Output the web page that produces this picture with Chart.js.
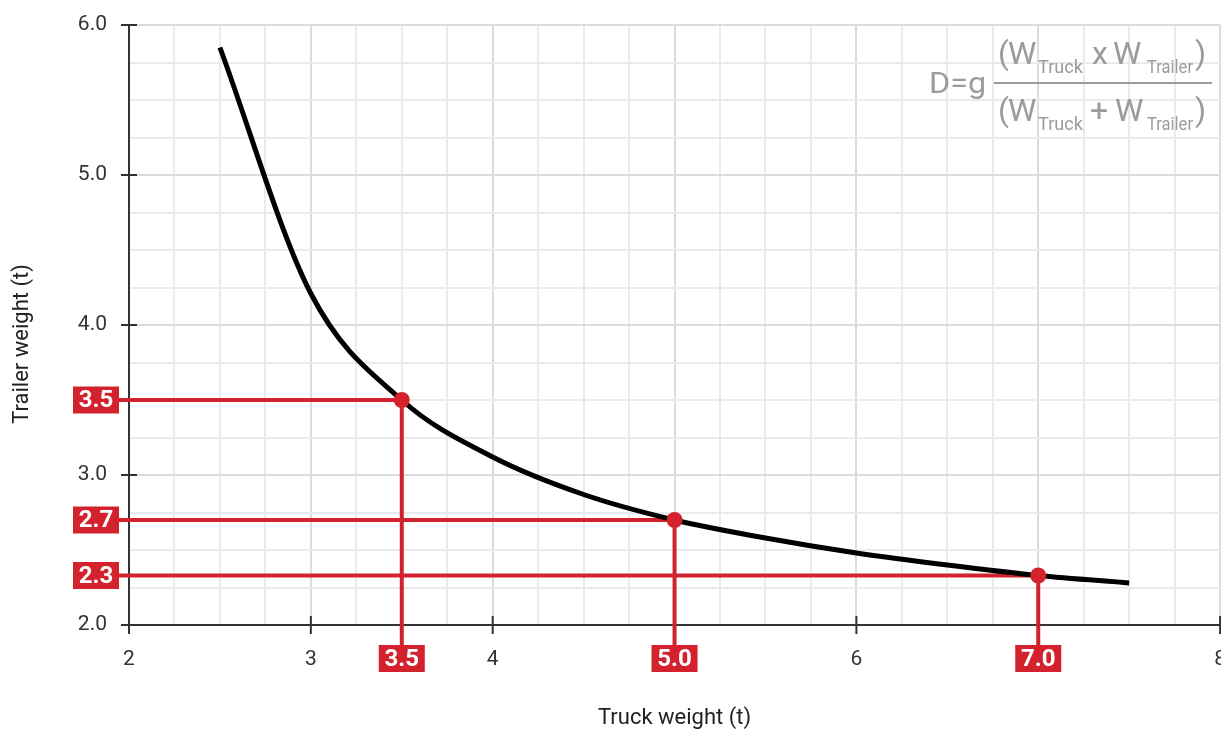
<!DOCTYPE html>
<html>
<head>
<meta charset="utf-8">
<script src="https://cdn.jsdelivr.net/npm/chart.js@4.4.0/dist/chart.umd.min.js"></script>
<style>
html, body { margin: 0; padding: 0; background: #fff; overflow: hidden; }
#wrap { position: absolute; left: 0; top: 0; width: 1226px; height: 731px; }
</style>
</head>
<body>
<div id="wrap"><canvas id="myChart"></canvas></div>
<script>
// curve
const truckWeights = [2.5, 3.0, 3.5, 4.0, 4.5, 5.0, 5.5, 6.0, 6.5, 7.0, 7.5];
const trailerWeights = [5.85, 4.21, 3.5, 3.12, 2.87, 2.70, 2.58, 2.48, 2.40, 2.33, 2.28];

// highlighted points
const markerTruck = [3.5, 5.0, 7.0];
const markerTrailer = [3.5, 2.70, 2.33];
const markerTruckLabels = ['3.5', '5.0', '7.0'];
const markerTrailerLabels = ['3.5', '2.7', '2.3'];

// labelled ticks
const xTickLabels = [2, 3, 4, 6, 8];
const yTickLabels = [2, 3, 4, 5, 6];

const RED = '#d3222e';
const AXIS = '#333333';
const FONT = 'Roboto';

// draw text squeezed/stretched to a given width
function fitText(ctx, text, x, y, w) {
    const m = ctx.measureText(text).width;
    ctx.save();
    ctx.translate(x, y);
    ctx.scale(w / m, 1);
    ctx.fillText(text, 0, 0);
    ctx.restore();
}

const guidePlugin = {
    id: 'guides',
    beforeDatasetsDraw(chart) {
        const ctx = chart.ctx;
        const x = chart.scales.x, y = chart.scales.y;
        ctx.save();
        ctx.strokeStyle = RED;
        ctx.lineWidth = 4;
        for (let i = 0; i < markerTruck.length; i++) {
            const px = x.getPixelForValue(markerTruck[i]);
            const py = y.getPixelForValue(markerTrailer[i]);
            ctx.beginPath();
            ctx.moveTo(x.left - 10, py);
            ctx.lineTo(px, py);
            ctx.lineTo(px, y.bottom + 20);
            ctx.stroke();
        }
        ctx.restore();
    },
    afterDraw(chart) {
        const ctx = chart.ctx;
        const x = chart.scales.x, y = chart.scales.y;
        ctx.save();
        // crossing tick marks
        ctx.strokeStyle = AXIS;
        ctx.lineWidth = 2;
        yTickLabels.forEach(v => {
            const py = y.getPixelForValue(v);
            ctx.beginPath();
            ctx.moveTo(x.left - 8, py);
            ctx.lineTo(x.left + 8, py);
            ctx.stroke();
        });
        xTickLabels.forEach(v => {
            const px = x.getPixelForValue(v);
            ctx.beginPath();
            ctx.moveTo(px, y.bottom - 9);
            ctx.lineTo(px, y.bottom + 9);
            ctx.stroke();
        });

        // y axis title (sits a little below the middle of the axis)
        ctx.fillStyle = '#222';
        ctx.font = '22px ' + FONT;
        ctx.textAlign = 'center';
        ctx.textBaseline = 'middle';
        ctx.translate(22, 344);
        ctx.rotate(-Math.PI / 2);
        ctx.fillText('Trailer weight (t)', 0, 0);
        ctx.setTransform(1, 0, 0, 1, 0, 0);

        // red value boxes
        ctx.font = 'bold 24px ' + FONT;
        for (let i = 0; i < markerTruck.length; i++) {
            const px = x.getPixelForValue(markerTruck[i]);
            const py = y.getPixelForValue(markerTrailer[i]);
            ctx.fillStyle = RED;
            ctx.fillRect(x.left - 56, py - 13.5, 46, 27);
            ctx.fillRect(px - 23, y.bottom + 20, 46, 27);
            ctx.fillStyle = '#ffffff';
            ctx.fillText(markerTrailerLabels[i], x.left - 33, py + 1);
            ctx.fillText(markerTruckLabels[i], px, y.bottom + 34.5);
        }

        // formula
        ctx.fillStyle = '#9b9b9b';
        ctx.textAlign = 'left';
        ctx.textBaseline = 'alphabetic';
        ctx.font = '30px ' + FONT;
        fitText(ctx, 'D=g', 929, 93, 57);
        ctx.fillRect(994, 82, 218, 2);
        const row = (base, op, opX, w2X) => {
            ctx.font = '32px ' + FONT;
            ctx.fillText('(', 998, base);
            ctx.fillText('W', 1008, base);
            ctx.fillText(op, opX, base);
            ctx.fillText('W', w2X, base);
            ctx.fillText(')', 1195, base);
            ctx.font = '18px ' + FONT;
            fitText(ctx, 'Truck', 1038, base + 9, 45);
            fitText(ctx, 'Trailer', 1147, base + 9, 46);
        };
        row(64, 'x', 1092, 1113);
        row(121, '+', 1090, 1115);
        ctx.restore();
    }
};

const gridColor = c => (c.tick && Number.isInteger(c.tick.value)) ? '#dcdcdc' : '#ebebeb';

const chartConfig = {
    type: 'scatter',
    data: {
        datasets: [{
            label: 'Points',
            data: markerTruck.map((v, i) => ({x: v, y: markerTrailer[i]})),
            backgroundColor: RED,
            borderWidth: 0,
            pointRadius: 8,
            showLine: false,
            order: 0,
        },
        {
            label: 'D curve',
            data: truckWeights.map((v, i) => ({x: v, y: trailerWeights[i]})),
            showLine: true,
            borderColor: '#000000',
            borderWidth: 5,
            pointRadius: 0,
            cubicInterpolationMode: 'monotone',
            order: 1,
        }],
    },
    options: {
        responsive: true,
        maintainAspectRatio: false,
        animation: false,
        layout: { autoPadding: false, padding: { top: 25, right: 0, left: 0, bottom: 0 } },
        plugins: {
            legend: { display: false },
            tooltip: { enabled: false },
        },
        scales: {
            x: {
                type: 'linear',
                min: 2,
                max: 8,
                afterFit: s => { s.height = 106; },
                ticks: {
                    stepSize: 0.25,
                    autoSkip: false,
                    maxRotation: 0,
                    padding: 0,
                    color: AXIS,
                    font: { family: FONT, size: 21 },
                    callback: v => xTickLabels.includes(v) ? String(v) : '',
                },
                grid: { color: gridColor, lineWidth: 2, drawTicks: true, tickLength: 22, tickColor: 'rgba(0,0,0,0)' },
                border: { color: AXIS, width: 2 },
                title: {
                    display: true,
                    text: 'Truck weight (t)',
                    color: '#222',
                    font: { family: FONT, size: 22, lineHeight: 1.1 },
                    padding: { top: 0, bottom: 0 },
                },
            },
            y: {
                type: 'linear',
                min: 2,
                max: 6,
                afterFit: s => { s.width = 129; },
                ticks: {
                    stepSize: 0.25,
                    autoSkip: false,
                    padding: 0,
                    color: AXIS,
                    font: { family: FONT, size: 21 },
                    callback: v => yTickLabels.includes(v) ? v.toFixed(1) : '',
                },
                grid: { color: gridColor, lineWidth: 2, drawTicks: true, tickLength: 22, tickColor: 'rgba(0,0,0,0)' },
                border: { color: AXIS, width: 2 },
                title: { display: false },
            },
        },
    },
    plugins: [guidePlugin],
};

const myChart = new Chart(document.getElementById('myChart'), chartConfig);
</script>
</body>
</html>
